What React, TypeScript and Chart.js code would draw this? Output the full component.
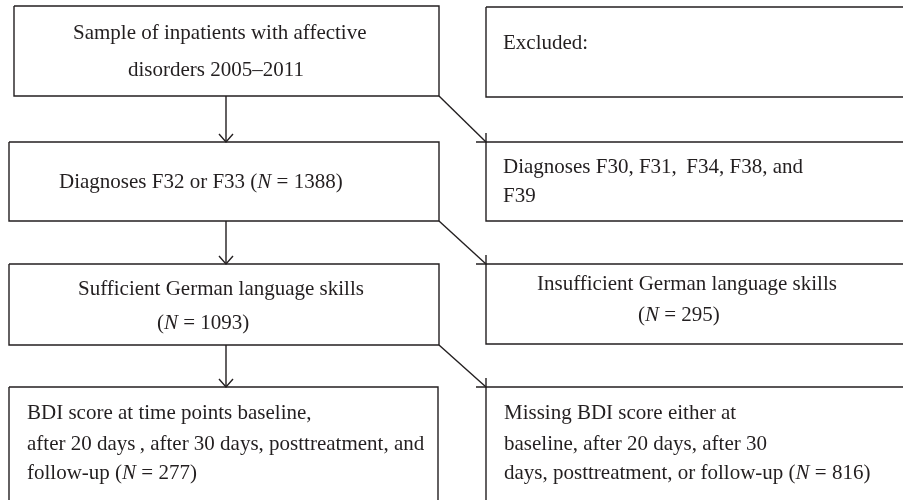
import React, { useEffect, useRef } from "react";
import { Chart, registerables } from "chart.js";

Chart.register(...registerables);

// Flowchart nodes (data units on a 0..903 x 0..500 canvas-like scale)
const nodeNames = ["sample", "f32f33", "german", "bdiComplete", "excluded", "otherDiagnoses", "insufficientGerman", "missingBdi"];
const nodeX0 = [14, 9, 9, 9, 486, 486, 486, 486];
const nodeX1 = [439, 439, 439, 438, 910, 910, 910, 910];
const nodeY0 = [6, 142, 264, 387, 7, 142, 264, 387];
const nodeY1 = [96, 221, 345, 510, 97, 221, 344, 510];

const nodeLines: string[][] = [
  ["Sample of inpatients with affective", "disorders 2005\u20132011"],
  ["Diagnoses F32 or F33 (N = 1388)"],
  ["Sufficient German language skills", "(N = 1093)"],
  ["BDI score at time points baseline,", "after 20 days\u2009, after 30 days, posttreatment, and", "follow-up (N = 277)"],
  ["Excluded:"],
  ["Diagnoses F30, F31,\u2009 F34, F38, and", "F39"],
  ["Insufficient German language skills", "(N = 295)"],
  ["Missing BDI score either at", "baseline, after 20 days, after 30", "days, posttreatment, or follow-up (N = 816)"],
];
const lineX: number[][] = [
  [73, 128],
  [59],
  [78, 157],
  [27, 27, 27],
  [503],
  [503, 503],
  [537, 638],
  [504, 504, 504],
];
const lineY: number[][] = [
  [33, 70],
  [182],
  [289, 323],
  [413, 444, 473],
  [43],
  [167, 196],
  [284, 315],
  [413, 444, 473],
];

// Edges: vertical flow arrows and diagonal exclusion arrows
const vertFrom = [0, 1, 2];
const vertTo = [1, 2, 3];
const diagFrom = [0, 1, 2];
const diagTo = [5, 6, 7];
const arrowX = 226;

const INK = "#231f20";
const FONT = "'Liberation Serif', 'Times New Roman', serif";
const FONT_SIZE = 21;

function lineDs(points: { x: number; y: number }[]) {
  return {
    data: points,
    showLine: true,
    borderColor: INK,
    borderWidth: 1.4,
    pointRadius: 0,
    fill: false,
    tension: 0,
  };
}

function buildDatasets() {
  const ds: any[] = [];
  nodeNames.forEach((_, i) => {
    const x0 = nodeX0[i], x1 = nodeX1[i], y0 = nodeY0[i], y1 = nodeY1[i];
    ds.push(lineDs([
      { x: x0, y: y0 }, { x: x1, y: y0 }, { x: x1, y: y1 }, { x: x0, y: y1 }, { x: x0, y: y0 },
    ]));
  });
  vertFrom.forEach((f, k) => {
    const t = vertTo[k];
    const ya = nodeY1[f], yb = nodeY0[t];
    ds.push(lineDs([{ x: arrowX, y: ya }, { x: arrowX, y: yb }]));
    ds.push(lineDs([{ x: arrowX - 7, y: yb - 8 }, { x: arrowX, y: yb }, { x: arrowX + 7, y: yb - 8 }]));
  });
  diagFrom.forEach((f, k) => {
    const t = diagTo[k];
    const xa = nodeX1[f], ya = nodeY1[f], xb = nodeX0[t], yb = nodeY0[t];
    ds.push(lineDs([{ x: xa, y: ya }, { x: xb, y: yb }]));
    ds.push(lineDs([{ x: xb - 10, y: yb }, { x: xb, y: yb }, { x: xb, y: yb - 9 }]));
  });
  return ds;
}

const textPlugin = {
  id: "flowText",
  afterDatasetsDraw(chart: any) {
    const { ctx, scales } = chart;
    const xs = scales.x, ys = scales.y;
    ctx.save();
    ctx.fillStyle = INK;
    ctx.textBaseline = "middle";
    ctx.textAlign = "left";
    nodeLines.forEach((lines, i) => {
      lines.forEach((txt, j) => {
        let px = xs.getPixelForValue(lineX[i][j]);
        const py = ys.getPixelForValue(lineY[i][j]);
        const parts = txt.split(/(\bN\b)/);
        parts.forEach((p) => {
          if (!p) return;
          ctx.font = (p === "N" ? "italic " : "") + FONT_SIZE + "px " + FONT;
          ctx.fillText(p, px, py);
          px += ctx.measureText(p).width;
        });
      });
    });
    ctx.restore();
  },
};

export default function App() {
  const ref = useRef<HTMLCanvasElement | null>(null);
  useEffect(() => {
    document.body.style.margin = "0";
    const c = ref.current;
    if (!c) return;
    const chart = new Chart(c, {
      type: "scatter",
      data: { datasets: buildDatasets() },
      options: {
        animation: false,
        responsive: false,
        devicePixelRatio: 1,
        layout: { padding: 0 },
        plugins: { legend: { display: false }, tooltip: { enabled: false } },
        scales: {
          x: { type: "linear", min: 0, max: 903, display: false },
          y: { type: "linear", min: 0, max: 500, reverse: true, display: false },
        },
      },
      plugins: [textPlugin],
    });
    return () => chart.destroy();
  }, []);
  return (
    <div style={{ width: 903, height: 500, background: "#fff" }}>
      <canvas ref={ref} width={903} height={500} />
    </div>
  );
}
